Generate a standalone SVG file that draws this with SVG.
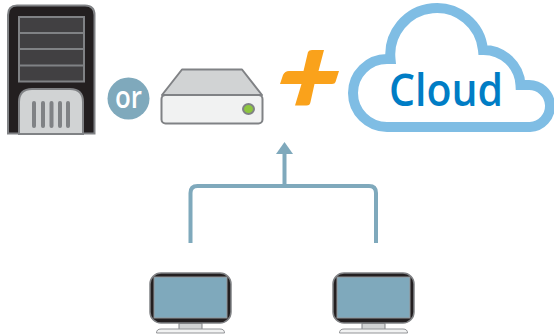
<svg xmlns="http://www.w3.org/2000/svg" width="554" height="336" viewBox="0 0 554 336">
<style>
.conn{fill:none;stroke:#7fa9bc;stroke-width:4}
.lbl{font-family:"Open Sans","Noto Sans",sans-serif}
</style>
<defs>
<g id="monitor">
<rect x="150" y="273" width="81" height="50" rx="11" fill="#231f20" stroke="#808285" stroke-width="1.500"/>
<rect x="154" y="277" width="73" height="41" fill="#7fa9bc" stroke="#939598" stroke-width="1"/>
<rect x="179" y="323.500" width="23" height="6" fill="#d1d3d4" stroke="#808285"/>
<path d="M156.500 333 Q156.500 329 161 329 H220 Q224.500 329 224.500 333 Z" fill="#f1f2f2" stroke="#939598"/>
</g>
</defs>
<rect width="554" height="336" fill="#fff"/>
<g id="server">
<path d="M8 133.500V15Q8 5.500 17 5.500H85Q94.500 5.500 94.500 15V133.500Z" fill="#231f20" stroke="#808285" stroke-width="2"/>
<rect x="19" y="17" width="65" height="64.500" fill="#414042" stroke="#808285" stroke-width="2"/>
<path d="M19 33H84M19 49H84M19 65.500H84" stroke="#808285" stroke-width="2" fill="none"/>
<path d="M19 134V102Q19 89 32 89H70Q83 89 83 102V134Z" fill="#d1d3d4" stroke="#808285" stroke-width="2"/>
<g fill="#808285"><rect x="32" y="101" width="4" height="27" rx="2"/><rect x="41" y="101" width="4" height="27" rx="2"/><rect x="49.500" y="101" width="4" height="27" rx="2"/><rect x="58" y="101" width="4" height="27" rx="2"/><rect x="66" y="101" width="4" height="27" rx="2"/></g>
</g>
<g id="or">
<circle cx="128.500" cy="98.500" r="21" fill="#7fa9bc"/>
<text x="115" y="107.500" textLength="27" lengthAdjust="spacingAndGlyphs" class="lbl" font-size="30" font-weight="600" fill="#fff">or</text>
</g>
<g id="drive">
<path d="M162 95 L182 69.500H242L262 95Z" fill="#d1d3d4" stroke="#808285" stroke-width="2" stroke-linejoin="round"/>
<rect x="161.500" y="95" width="101" height="28.500" rx="4" fill="#f1f2f2" stroke="#808285" stroke-width="2"/>
<ellipse cx="248.500" cy="109" rx="5.500" ry="5" fill="#8dc63f" stroke="#808285" stroke-width="2"/>
</g>
<g id="plus">
<path d="M308 52Q309 50 312 50H324L318.500 71H339L335.500 82Q335 84 332 84H314.500L310.500 102Q310 105.500 306.500 105.500H295L301.500 84H280L283 75Q285 71 289 71H303.500Z" fill="#faa21b"/>
</g>
<g id="cloud">
<path d="M530 127H387A34 34 0 0 1 387 59H390.500A46 46 0 0 1 483 50A37 37 0 0 1 520.500 85H528A21 21 0 0 1 530 127Z" fill="#fff" stroke="#7fbde4" stroke-width="10"/>
<text x="389" y="106" textLength="114" lengthAdjust="spacingAndGlyphs" class="lbl" font-size="46" font-weight="600" fill="#007dc5">Cloud</text>
</g>
<g id="monitor1"><use href="#monitor"/></g>
<g id="monitor2"><use href="#monitor" x="183"/></g>
<g id="connectors">
<path class="conn" d="M190.500 243V193Q190.500 186 197.500 186H369Q376 186 376 193V243"/>
<path class="conn" d="M284.500 186V152"/>
<path d="M284.500 142L293 154H276Z" fill="#7fa9bc"/>
</g>
</svg>
